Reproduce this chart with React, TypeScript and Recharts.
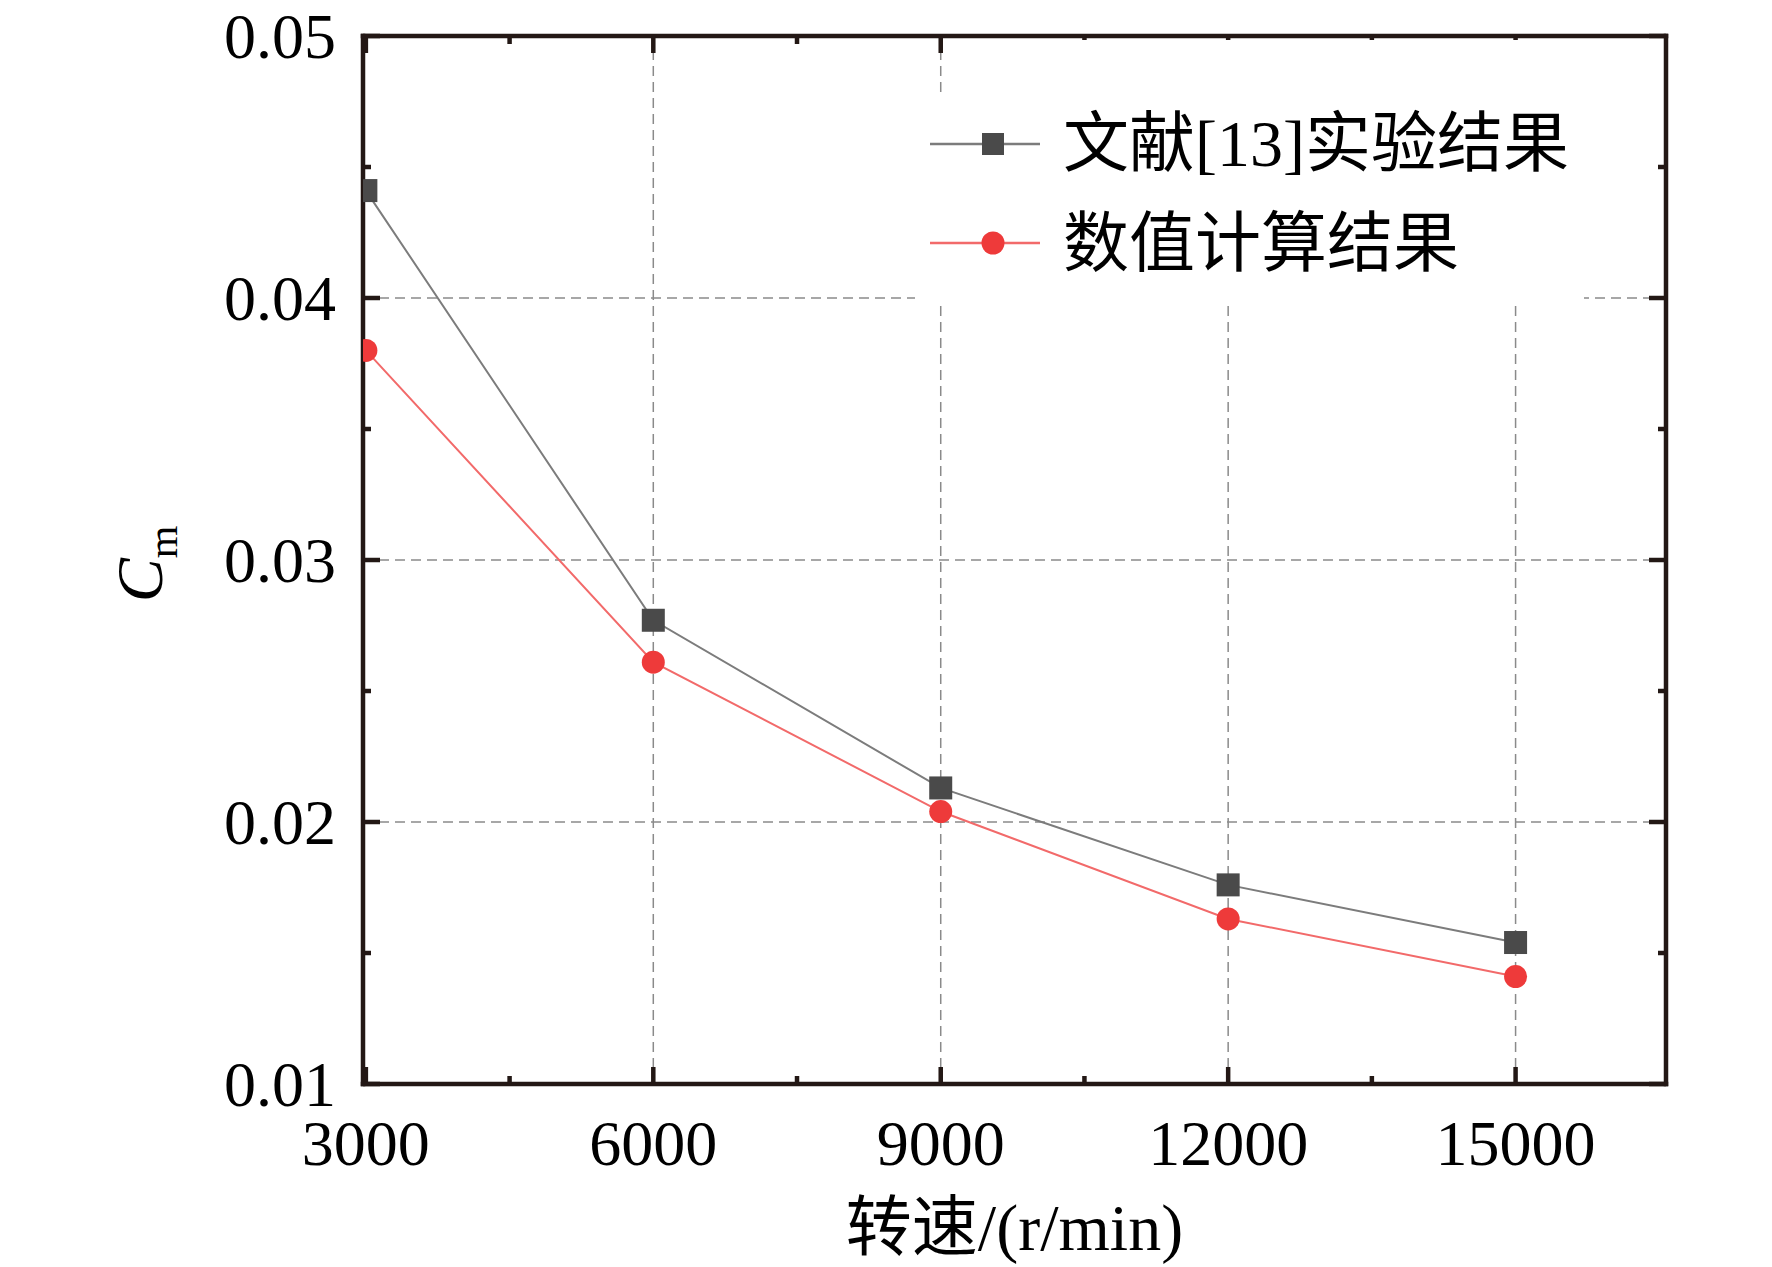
import React from "react";
import {
  LineChart,
  Line,
  XAxis,
  YAxis,
  ReferenceLine,
  Legend,
} from "recharts";

// ---- data ----
const speeds = [3000, 6000, 9000, 12000, 15000];
const experimentValues = [0.0441, 0.0277, 0.0213, 0.0176, 0.0154];
const simulationValues = [0.038, 0.0261, 0.0204, 0.0163, 0.0141];

const xTicks = [3000, 4500, 6000, 7500, 9000, 10500, 12000, 13500, 15000];
const yTicks = [0.01, 0.015, 0.02, 0.025, 0.03, 0.035, 0.04, 0.045, 0.05];
const xGrid = [6000, 9000, 12000, 15000];
const yGrid = [0.02, 0.03, 0.04];

const seriesNames = ["文献[13]实验结果", "数值计算结果"];
const xTitle = "转速/(r/min)";

const data = speeds.map((s, i) => ({
  x: s,
  exp: experimentValues[i],
  sim: simulationValues[i],
}));

// ---- styles ----
const AXIS_COLOR = "#231815";
const GRID_COLOR = "#8a8a8a";
const EXP_FILL = "#4a4a4a";
const EXP_LINE = "#7c7c7c";
const SIM_FILL = "#ee3a3a";
const SIM_LINE = "#f26a6a";
const FONT = "'Liberation Serif', 'Noto Sans CJK SC', serif";
const MAJOR = 17;
const MINOR = 8;

const isMajorX = (v: number) => v % 3000 === 0;
const isMajorY = (v: number) => Math.abs(v * 100 - Math.round(v * 100)) < 1e-6;

const BottomTick = (props: any) => {
  const { x, y, payload } = props;
  const v = payload.value;
  const major = isMajorX(v);
  return (
    <g>
      <line x1={x} x2={x} y1={y} y2={y - (major ? MAJOR : MINOR)} stroke={AXIS_COLOR} strokeWidth={4.5} />
      {major && (
        <text x={x} y={y + 81} textAnchor="middle" fontSize={64} fontFamily={FONT} fill="#000">
          {v}
        </text>
      )}
    </g>
  );
};

const TopTick = (props: any) => {
  const { x, y, payload } = props;
  const major = isMajorX(payload.value);
  return (
    <line x1={x} x2={x} y1={y} y2={y + (major ? MAJOR : MINOR)} stroke={AXIS_COLOR} strokeWidth={4.5} />
  );
};

const LeftTick = (props: any) => {
  const { x, y, payload } = props;
  const v = payload.value;
  const major = isMajorY(v);
  return (
    <g>
      <line x1={x} x2={x + (major ? MAJOR : MINOR)} y1={y} y2={y} stroke={AXIS_COLOR} strokeWidth={4.5} />
      {major && (
        <text x={x - 27} y={y + 22} textAnchor="end" fontSize={64} fontFamily={FONT} fill="#000">
          {v.toFixed(2)}
        </text>
      )}
    </g>
  );
};

const RightTick = (props: any) => {
  const { x, y, payload } = props;
  const major = isMajorY(payload.value);
  return (
    <line x1={x} x2={x - (major ? MAJOR : MINOR)} y1={y} y2={y} stroke={AXIS_COLOR} strokeWidth={4.5} />
  );
};

const SquareDot = (props: any) => {
  const { cx, cy, index } = props;
  if (cx == null || cy == null) return <g key={`s-${index}`} />;
  return <rect key={`s-${index}`} x={cx - 11.5} y={cy - 11.5} width={23} height={23} fill={EXP_FILL} />;
};

const CircleDot = (props: any) => {
  const { cx, cy, index } = props;
  if (cx == null || cy == null) return <g key={`c-${index}`} />;
  return <circle key={`c-${index}`} cx={cx} cy={cy} r={11.5} fill={SIM_FILL} />;
};

// legend box: wrapper at (915, 40), 669 x 261
const LegendContent = () => (
  <svg width={669} height={261} style={{ display: "block" }}>
    <path d="M0 55 H85 V0 H669 V261 H0 Z" fill="#fff" />
    <line x1={15} x2={125} y1={104} y2={104} stroke={EXP_LINE} strokeWidth={2.5} />
    <rect x={67} y={93} width={22} height={22} fill={EXP_FILL} />
    <text x={148} y={126} fontSize={66} fontFamily={FONT} fill="#000">
      {seriesNames[0]}
    </text>
    <line x1={15} x2={125} y1={203} y2={203} stroke={SIM_LINE} strokeWidth={2.5} />
    <circle cx={78} cy={203} r={11.5} fill={SIM_FILL} />
    <text x={148} y={226} fontSize={66} fontFamily={FONT} fill="#000">
      {seriesNames[1]}
    </text>
  </svg>
);

const YTitle = (props: any) => {
  const vb = props.viewBox || {};
  const cx = (vb.x ?? 0) + 162;
  const cy = (vb.y ?? 0) + (vb.height ?? 0) / 2;
  return (
    <text
      transform={`translate(${cx}, ${cy + 4}) rotate(-90)`}
      textAnchor="middle"
      fontFamily={FONT}
      fill="#000"
    >
      <tspan fontSize={66} fontStyle="italic">C</tspan>
      <tspan fontSize={42} dy={15}>m</tspan>
    </text>
  );
};

const XTitle = (props: any) => {
  const vb = props.viewBox || {};
  const cx = (vb.x ?? 0) + (vb.width ?? 0) / 2;
  const y = (vb.y ?? 0) + 166;
  return (
    <text x={cx} y={y} textAnchor="middle" fontSize={66} fontFamily={FONT} fill="#000">
      {xTitle}
    </text>
  );
};

const axisLine = { stroke: AXIS_COLOR, strokeWidth: 4.5, strokeLinecap: "square" as const };

export default function App() {
  return (
    <div style={{ position: "absolute", left: 0, top: 0, width: 1772, height: 1267, background: "#fff" }}>
      <LineChart
        width={1772}
        height={1267}
        data={data}
        margin={{ top: 35, right: 105, bottom: 0, left: 0 }}
      >
        <XAxis
          xAxisId="b"
          dataKey="x"
          type="number"
          domain={[2970, 16570]}
          ticks={xTicks}
          allowDataOverflow
          height={183}
          tickSize={0}
          tickMargin={0}
          tickLine={false}
          axisLine={axisLine}
          tick={<BottomTick />}
          interval={0}
          label={<XTitle />}
        />
        <XAxis
          xAxisId="t"
          orientation="top"
          dataKey="x"
          type="number"
          domain={[2970, 16570]}
          ticks={xTicks}
          allowDataOverflow
          height={1}
          tickSize={0}
          tickMargin={0}
          tickLine={false}
          axisLine={axisLine}
          tick={<TopTick />}
          interval={0}
        />
        <YAxis
          yAxisId="l"
          type="number"
          domain={[0.01, 0.05]}
          ticks={yTicks}
          allowDataOverflow
          width={363}
          tickSize={0}
          tickMargin={0}
          tickLine={false}
          axisLine={axisLine}
          tick={<LeftTick />}
          interval={0}
          label={<YTitle />}
        />
        <YAxis
          yAxisId="r"
          orientation="right"
          type="number"
          domain={[0.01, 0.05]}
          ticks={yTicks}
          allowDataOverflow
          width={1}
          tickSize={0}
          tickMargin={0}
          tickLine={false}
          axisLine={axisLine}
          tick={<RightTick />}
          interval={0}
        />
        {xGrid.map((v) => (
          <ReferenceLine
            key={`gx-${v}`}
            x={v}
            xAxisId="b"
            yAxisId="l"
            stroke={GRID_COLOR}
            strokeWidth={1.5}
            strokeDasharray="10 6"
          />
        ))}
        {yGrid.map((v) => (
          <ReferenceLine
            key={`gy-${v}`}
            y={v}
            xAxisId="b"
            yAxisId="l"
            stroke={GRID_COLOR}
            strokeWidth={1.5}
            strokeDasharray="10 6"
          />
        ))}
        <Legend
          layout="vertical"
          align="center"
          verticalAlign="middle"
          content={<LegendContent />}
          wrapperStyle={{
            position: "absolute",
            left: 915,
            top: 40,
            width: 669,
            height: 261,
          }}
        />
        <Line
          xAxisId="b"
          yAxisId="l"
          dataKey="exp"
          name={seriesNames[0]}
          stroke={EXP_LINE}
          strokeWidth={2}
          dot={SquareDot}
          activeDot={false}
          isAnimationActive={false}
        />
        <Line
          xAxisId="b"
          yAxisId="l"
          dataKey="sim"
          name={seriesNames[1]}
          stroke={SIM_LINE}
          strokeWidth={2}
          dot={CircleDot}
          activeDot={false}
          isAnimationActive={false}
        />
      </LineChart>
    </div>
  );
}
